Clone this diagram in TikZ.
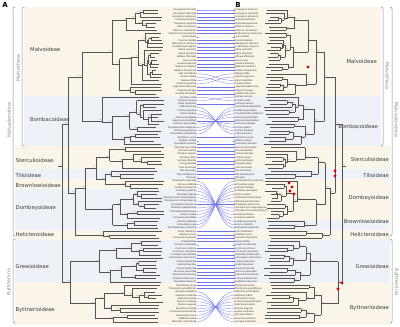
\documentclass[tikz,border=0pt]{standalone}
\usepackage{fontspec}
\setmainfont{DejaVu Sans}
\newfontfamily\tipf{Liberation Sans}
\usetikzlibrary{shapes.geometric}
\definecolor{beige}{HTML}{FBF4E8}
\definecolor{lblue}{HTML}{EFF1F9}
\definecolor{linkc}{HTML}{6E73E6}
\definecolor{treec}{HTML}{555555}
\definecolor{brkc}{HTML}{8C8C8C}
\definecolor{labc}{HTML}{3C3C3C}
\def\yo{10}\def\ys{3.355}
\def\capL{156}\def\tipL{164}
\def\capR{272}\def\tipR{264}
\newcommand\cy[3]{\pgfmathsetmacro#1{\yo+(#2+#3)/2*\ys}}
% manual backbone node, left tree
\newcommand\LN[5]{\begingroup
 \cy\oy{#1}{#3}\cy\ya{#1}{#2}\pgfmathtruncatemacro\mp{#2+1}\cy\yb{\mp}{#3}%
 \draw[tree] (#4,\oy) -- (#5,\oy) (#5,\ya) -- (#5,\yb);
 \node[sup,anchor=south east] at (#5,\oy) {100};
 \endgroup}
\newcommand\RN[5]{\begingroup
 \cy\oy{#1}{#3}\cy\ya{#1}{#2}\pgfmathtruncatemacro\mp{#2+1}\cy\yb{\mp}{#3}%
 \draw[tree] (#4,\oy) -- (#5,\oy) (#5,\ya) -- (#5,\yb);
 \node[sup,anchor=south west] at (#5,\oy) {100};
 \endgroup}
% random subtree, left tree (grows to the right)
\newcommand\LT[3]{\begingroup
 \ifnum#1=#2\relax
  \pgfmathsetmacro\ty{\yo+#1*\ys}%
  \pgfmathsetmacro\tx{max(#3+2,\tipL-rnd*10)}%
  \draw[tree] (#3,\ty) -- (\tx,\ty);
 \else
  \ifnum\numexpr#2-#1\relax=1 \def\m{#1}\else
   \pgfmathtruncatemacro\bm{#2-1}%
   \pgfmathtruncatemacro\m{random(#1,\bm)}\fi
  \pgfmathtruncatemacro\mp{\m+1}%
  \pgfmathsetmacro\nx{#3+max(0.8,(\capL-#3)*(0.12+rnd*0.3))}%
  \cy\oy{#1}{#2}\cy\ya{#1}{\m}\cy\yb{\mp}{#2}%
  \draw[tree] (#3,\oy) -- (\nx,\oy) (\nx,\ya) -- (\nx,\yb);
  \node[sup,anchor=south east] at (\nx,\oy) {100};
  \edef\next{\noexpand\LT{#1}{\m}{\nx}\noexpand\LT{\mp}{#2}{\nx}}\next
 \fi
 \endgroup}
% random subtree, right tree (grows to the left)
\newcommand\RT[3]{\begingroup
 \ifnum#1=#2\relax
  \pgfmathsetmacro\ty{\yo+#1*\ys}%
  \pgfmathsetmacro\tx{min(#3-2,\tipR+rnd*8)}%
  \draw[tree] (#3,\ty) -- (\tx,\ty);
 \else
  \ifnum\numexpr#2-#1\relax=1 \def\m{#1}\else
   \pgfmathtruncatemacro\bm{#2-1}%
   \pgfmathtruncatemacro\m{random(#1,\bm)}\fi
  \pgfmathtruncatemacro\mp{\m+1}%
  \pgfmathsetmacro\nx{#3-max(0.8,(#3-\capR)*(0.12+rnd*0.3))}%
  \cy\oy{#1}{#2}\cy\ya{#1}{\m}\cy\yb{\mp}{#2}%
  \draw[tree] (#3,\oy) -- (\nx,\oy) (\nx,\ya) -- (\nx,\yb);
  \node[sup,anchor=south west] at (\nx,\oy) {100};
  \edef\next{\noexpand\RT{#1}{\m}{\nx}\noexpand\RT{\mp}{#2}{\nx}}\next
 \fi
 \endgroup}
\def\permlist{0,...,18,21,22,19,20,23,24,25,27,26,28,37,36,35,34,33,32,31,30,29,38,39,...,50,65,64,...,51,66,67,...,83,93,92,...,84}
\begin{document}
\begin{tikzpicture}[x=1pt,y=-1pt,
  tree/.style={draw=treec,line width=0.35pt},
  sup/.style={font={\tipf\fontsize{1.6pt}{2pt}\selectfont},text=black!45,inner sep=0.2pt},
  tipl/.style={font={\tipf\fontsize{2.5pt}{3pt}\selectfont},text=black!75,inner sep=0pt},
  link/.style={draw=linkc,line width=0.3pt},
  clade/.style={font=\fontsize{5.3pt}{6pt}\selectfont,text=labc,inner sep=0pt},
  grp/.style={font=\fontsize{4.8pt}{5pt}\selectfont,text=brkc,inner sep=0pt},
  brk/.style={draw=brkc,line width=0.5pt,rounded corners=2pt},
  panel/.style={font=\bfseries\fontsize{7pt}{8pt}\selectfont,inner sep=0pt},
  redmk/.style={star,star points=5,fill=red!85!black,inner sep=0pt,minimum size=3.2pt}]
\useasboundingbox (0,0) rectangle (400,327);
\pgfmathsetseed{11}
% background bands, left
\fill[beige] (24,7) rectangle (197,95.55);
\fill[lblue] (24,95.55) rectangle (197,145.88);
\fill[beige] (15,145.88) rectangle (197,169.36);
\fill[lblue] (15,169.36) rectangle (197,179.43);
\fill[beige] (15,179.43) rectangle (197,189.49);
\fill[lblue] (15,189.49) rectangle (197,229.75);
\fill[beige] (15,229.75) rectangle (197,239.82);
\fill[lblue] (15,239.82) rectangle (197,283.43);
\fill[beige] (15,283.43) rectangle (197,325);
% background bands, right
\fill[beige] (233,7) rectangle (381,95.55);
\fill[lblue] (233,95.55) rectangle (381,145.88);
\fill[beige] (233,145.88) rectangle (390,169.36);
\fill[lblue] (233,169.36) rectangle (390,179.43);
\fill[beige] (233,179.43) rectangle (390,219.69);
\fill[lblue] (233,219.69) rectangle (390,229.75);
\fill[beige] (233,229.75) rectangle (390,239.82);
\fill[lblue] (233,239.82) rectangle (390,283.43);
\fill[beige] (233,283.43) rectangle (390,325);
% panel letters
\node[panel] (pA) at (5,5) {A};
\node[panel] (pB) at (238,5) {B};
% brackets left
\draw[brk] (15.5,7) -- (13,7) -- (13,236) -- (15.5,236);
\draw[brk] (24.5,7) -- (22,7) -- (22,146) -- (24.5,146);
\draw[brk] (15.5,239) -- (13,239) -- (13,323) -- (15.5,323);
\node[grp,rotate=90] (gL1) at (9,120) {Malvadendrina};
\node[grp,rotate=90] (gL2) at (18,68) {Malvatheca};
\node[grp,rotate=90] (gL3) at (9,282) {Byttneriina};
% brackets right
\draw[brk] (380.5,7) -- (383,7) -- (383,146) -- (380.5,146);
\draw[brk] (389.5,7) -- (392,7) -- (392,236) -- (389.5,236);
\draw[brk] (389.5,239) -- (392,239) -- (392,323) -- (389.5,323);
\node[grp,rotate=-90] (gR2) at (387.5,76) {Malvatheca};
\node[grp,rotate=-90] (gR1) at (396.5,120) {Malvadendrina};
\node[grp,rotate=-90] (gR3) at (396.5,282) {Byttneriina};
% clade labels left
\node[clade,anchor=west] (cL1) at (30,50) {Malvoideae};
\node[clade,anchor=west] (cL2) at (30,120) {Bombacoideae};
\node[clade,anchor=west] (cL3) at (15.5,161) {Sterculioideae};
\node[clade,anchor=west] (cL4) at (15.5,175.5) {Tilioideae};
\node[clade,anchor=west] (cL5) at (15.5,186) {Brownlowioideae};
\node[clade,anchor=west] (cL6) at (15.5,208) {Dombeyoideae};
\node[clade,anchor=west] (cL7) at (15.5,234.5) {Helicteroideae};
\node[clade,anchor=west] (cL8) at (15.5,267) {Grewioideae};
\node[clade,anchor=west] (cL9) at (15.5,310) {Byttnerioideae};
% clade labels right
\node[clade,anchor=east] (cR1) at (377,62) {Malvoideae};
\node[clade,anchor=east] (cR2) at (378,127) {Bombacoideae};
\node[clade,anchor=east] (cR3) at (389,160) {Sterculioideae};
\node[clade,anchor=east] (cR4) at (389,176) {Tilioideae};
\node[clade,anchor=east] (cR5) at (389,198) {Dombeyoideae};
\node[clade,anchor=east] (cR6) at (389,222) {Brownlowioideae};
\node[clade,anchor=east] (cR7) at (389,234.5) {Helicteroideae};
\node[clade,anchor=east] (cR8) at (389,267) {Grewioideae};
\node[clade,anchor=east] (cR9) at (389,308) {Byttnerioideae};
% left tree
\LN{0}{68}{93}{58}{62}
\LN{0}{40}{68}{62}{68}
\LN{0}{25}{40}{68}{82}
\LT{0}{25}{82}
\LT{26}{40}{82}
\LN{41}{65}{68}{68}{75}
\LN{41}{53}{65}{75}{85}
\LN{41}{47}{53}{85}{96}
\LN{48}{50}{53}{96}{105}
\LT{41}{47}{96}
\LT{48}{50}{105}
\LT{51}{53}{105}
\LT{54}{65}{85}
\LT{66}{68}{75}
\LN{69}{81}{93}{62}{70}
\LT{69}{81}{70}
\LT{82}{93}{70}
% right tree
\RN{0}{68}{93}{346}{342}
\RN{0}{40}{68}{342}{335}
\RN{0}{25}{40}{335}{324}
\RT{0}{25}{324}
\RT{26}{40}{324}
\RN{41}{65}{68}{335}{330}
\RT{66}{68}{330}
\RN{41}{50}{65}{330}{325}
\RN{41}{47}{50}{325}{318}
\RT{41}{47}{318}
\RT{48}{50}{318}
\RN{51}{62}{65}{325}{316}
\RT{51}{62}{316}
\RT{63}{65}{316}
\RN{69}{81}{93}{342}{338}
\RT{69}{81}{338}
\RT{82}{93}{338}
% left tip labels
\foreach \nm [count=\i from 0] in {Gossypium hirsutum,Gossypium raimondii,Gossypium arboreum,Kokia drynarioides,Thespesia populnea,Hibiscus syriacus,Hibiscus cannabinus,Abelmoschus esculentus,Urena lobata,Pavonia hastata,Malvaviscus arboreus,Kosteletzkya virginica,Malva sylvestris,Malva parviflora,Althaea officinalis,Alcea rosea,Lavatera arborea,Sidalcea malviflora,Abutilon theophrasti,Sida rhombifolia,Anoda cristata,Malope trifida,Hoheria populnea,Lagunaria patersonia,Radyera farragei,Howittia trilocularis,Bombax ceiba,Bombax anceps,Ceiba pentandra,Ceiba speciosa,Pachira aquatica,Pachira glabra,Adansonia digitata,Adansonia grandidieri,Ochroma pyramidale,Pseudobombax ellipticum,Eriotheca gracilipes,Cavanillesia platanifolia,Spirotheca rosea,Matisia cordata,Quararibea funebris,Sterculia lanceolata,Sterculia foetida,Firmiana simplex,Firmiana major,Heritiera littoralis,Pterygota alata,Cola acuminata,Tilia amurensis,Tilia mandshurica,Tilia tuan,Brownlowia argentata,Berrya cordifolia,Pentace burmanica,Dombeya wallichii,Dombeya tiliacea,Pterospermum heterophyllum,Pterospermum kingtungense,Pentapetes phoenicea,Melhania hamiltoniana,Trochetia blackburniana,Ruizia cordata,Eriolaena spectabilis,Harmsia sidoides,Schoutenia ovata,Burretiodendron esquirolii,Durio zibethinus,Helicteres isora,Reevesia thyrsoidea,Grewia biloba,Grewia occidentalis,Corchorus olitorius,Corchorus capsularis,Triumfetta rhomboidea,Heliocarpus americanus,Luehea divaricata,Apeiba tibourbou,Colona floribunda,Microcos paniculata,Sparrmannia africana,Entelea arborescens,Desplatsia dewevrei,Theobroma cacao,Theobroma grandiflorum,Herrania umbratica,Guazuma ulmifolia,Byttneria aspera,Ayenia compacta,Abroma augusta,Kleinhovia hospita,Commersonia bartramia,Hermannia incana,Waltheria indica,Melochia corchorifolia} {
  \pgfmathsetmacro\ty{\yo+\i*\ys}
  \node[tipl,anchor=east] (Ln\i) at (196.5,\ty) {\nm};
  \expandafter\xdef\csname tipname\i\endcsname{\nm}
}
% right tip labels and links
\foreach \k [count=\j from 0] in \permlist {
  \pgfmathsetmacro\ty{\yo+\j*\ys}
  \node[tipl,anchor=west] (Rn\j) at (234.5,\ty) {\csname tipname\k\endcsname};
  \draw[link] (Ln\k.east) .. controls +(18,0) and +(-18,0) .. (Rn\j.west);
}
% red markers
\foreach \p [count=\q] in {(308,67),(335,171),(335,176),(289,183),(292,187),(290,191),(294,194),(342,283),(338,289)}
  \node[redmk] (rm\q) at \p {};
\end{tikzpicture}
\end{document}
